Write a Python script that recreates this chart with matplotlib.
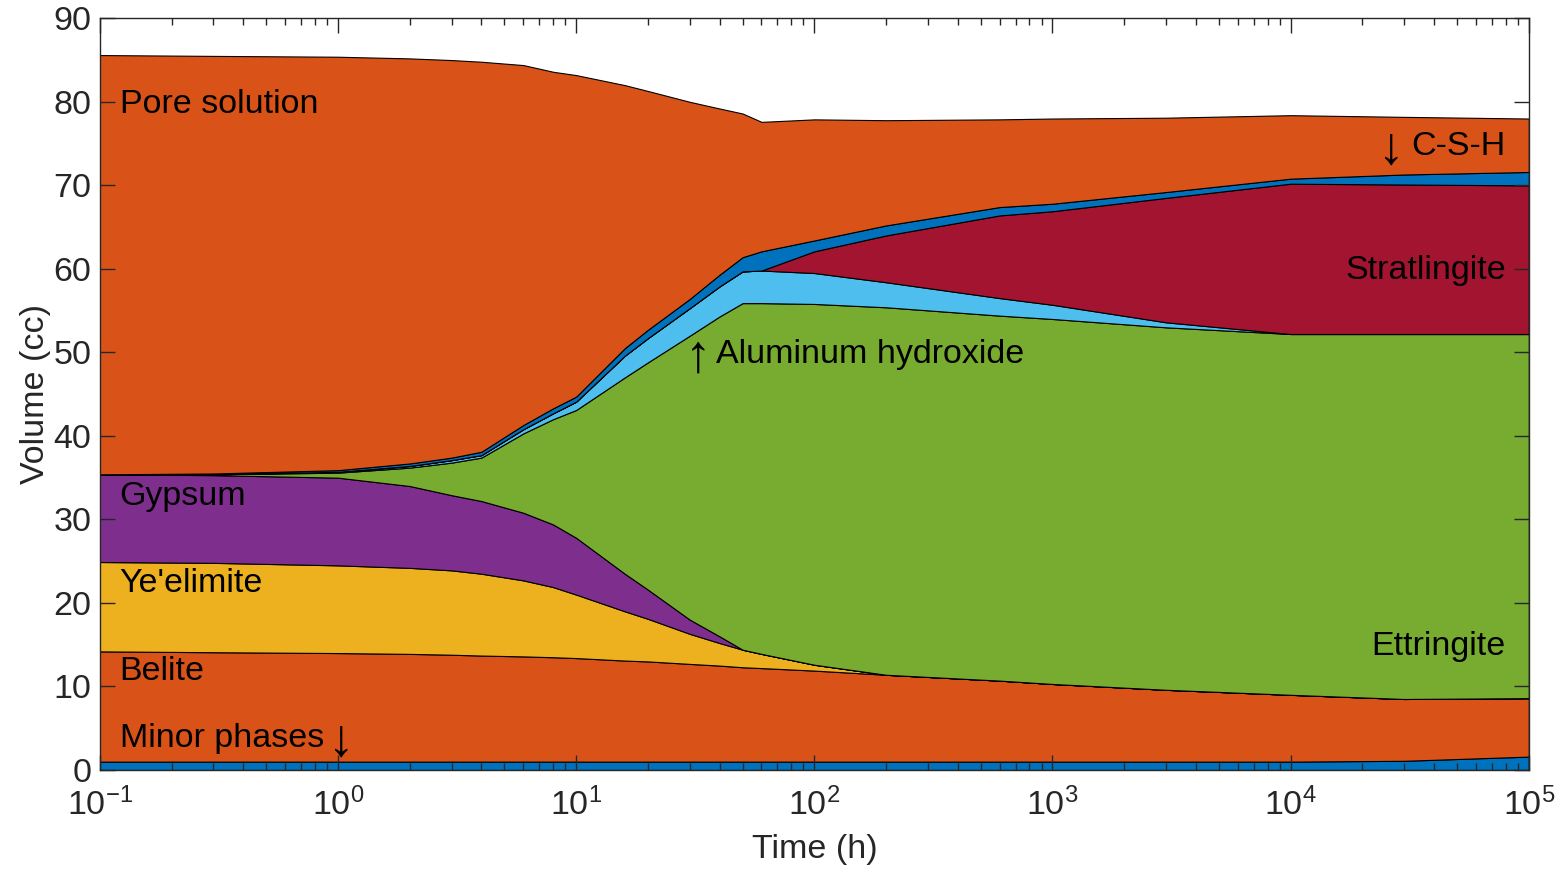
import numpy as np
import matplotlib
matplotlib.use("Agg")
from matplotlib import pyplot as plt
from matplotlib.ticker import FixedLocator, LogLocator, NullFormatter

plt.rcParams['font.family'] = ['Liberation Sans', 'DejaVu Sans']
plt.rcParams['mathtext.fontset'] = 'custom'
plt.rcParams['mathtext.rm'] = 'Liberation Sans'
plt.rcParams['mathtext.default'] = 'regular'

# time (h) and phase volumes (cc)
time = [0.1, 0.3, 1, 2, 3, 4, 6, 8, 10, 16, 20, 30, 40, 50, 60, 100, 200, 600, 1000, 3000, 1e4, 3e4, 1e5]
minor = [1.0, 1.0, 1.0, 1.0, 1.0, 1.0, 1.0, 1.0, 1.0, 1.0, 1.0, 1.0, 1.0, 1.0, 1.0, 1.0, 1.0, 1.0, 1.0, 1.0, 1.0, 1.1, 1.6]
belite = [13.2, 13.1, 13.0, 12.9, 12.8, 12.7, 12.6, 12.5, 12.4, 12.1, 12.0, 11.7, 11.5, 11.3, 11.2, 10.9, 10.4, 9.7, 9.3, 8.6, 8.0, 7.4, 7.0]
yeelimite = [10.7, 10.7, 10.5, 10.3, 10.1, 9.8, 9.1, 8.4, 7.6, 5.9, 5.1, 3.6, 2.7, 2.1, 1.7, 0.7, 0, 0, 0, 0, 0, 0, 0]
gypsum = [10.5, 10.5, 10.5, 9.8, 9.0, 8.7, 8.1, 7.5, 6.8, 4.5, 3.5, 1.7, 0.8, 0, 0, 0, 0, 0, 0, 0, 0, 0, 0]
ettringite = [0, 0.1, 0.6, 2.2, 3.9, 5.2, 9.5, 12.6, 15.3, 23.5, 27.2, 34.0, 38.3, 41.5, 42.0, 43.2, 44.0, 43.7, 43.7, 43.4, 43.2, 43.7, 43.6]
al_hydroxide = [0, 0, 0.1, 0.2, 0.3, 0.3, 0.5, 0.7, 1.0, 2.6, 2.9, 3.3, 3.6, 3.8, 3.9, 3.7, 3.0, 2.1, 1.7, 0.6, 0, 0, 0]
stratlingite = [0, 0, 0, 0, 0, 0, 0, 0, 0, 0, 0, 0, 0, 0, 0, 2.6, 5.6, 9.9, 11.2, 14.9, 18.0, 17.9, 17.8]
csh = [0, 0.1, 0.2, 0.3, 0.3, 0.4, 0.5, 0.6, 0.6, 0.9, 1.0, 1.1, 1.4, 1.7, 2.3, 1.3, 1.2, 1.0, 0.9, 0.7, 0.6, 1.2, 1.6]
pore = [50.2, 50.0, 49.5, 48.5, 47.6, 46.7, 43.1, 40.3, 38.5, 31.5, 28.6, 23.6, 19.9, 17.2, 15.5, 14.5, 12.6, 10.5, 10.2, 8.9, 7.6, 6.9, 6.4]

colors = ['#0072BD', '#D95319', '#EDB120', '#7E2F8E', '#77AC30',
          '#4DBEEE', '#A2142F', '#0072BD', '#D95319']

fig = plt.figure(figsize=(15.6, 8.72), dpi=100)
ax = fig.add_axes([0.064, 0.117, 0.916, 0.862])

polys = ax.stackplot(time, minor, belite, yeelimite, gypsum, ettringite,
                     al_hydroxide, stratlingite, csh, pore, colors=colors)
for p in polys:
    p.set_edgecolor('black')
    p.set_linewidth(0.8)

ax.set_xscale('log')
ax.set_xlim(0.1, 1e5)
ax.set_ylim(0, 90)
ax.set_yticks(np.arange(0, 91, 10))
ax.xaxis.set_major_locator(FixedLocator([0.1, 1, 10, 100, 1000, 1e4, 1e5]))
ax.set_xticklabels(['$10^{-1}$', '$10^{0}$', '$10^{1}$', '$10^{2}$',
                    '$10^{3}$', '$10^{4}$', '$10^{5}$'])
ax.xaxis.set_minor_locator(LogLocator(base=10, subs=np.arange(2, 10), numticks=20))
ax.xaxis.set_minor_formatter(NullFormatter())

fs = 24.5
ax.tick_params(which='both', direction='in', top=True, right=True,
               colors='#262626', labelsize=fs, width=1.0)
ax.tick_params(which='major', length=11)
ax.tick_params(axis='x', which='major', pad=13)
ax.tick_params(axis='y', which='major', pad=6)
ax.tick_params(which='minor', length=5)
for s in ax.spines.values():
    s.set_color('#262626')
    s.set_linewidth(1.0)
    s.set_zorder(5)
ax.set_axisbelow(False)

ax.set_xlabel('Time (h)', fontsize=fs, color='#262626', labelpad=8)
ax.set_ylabel('Volume (cc)', fontsize=fs, color='#262626', labelpad=2)

# phase labels
ax.text(0.121, 79.7, 'Pore solution', fontsize=fs, va='center', ha='left')
ax.text(8e4, 74.7, 'C-S-H', fontsize=fs, va='center', ha='right')
ax.text(8e4, 59.8, 'Stratlingite', fontsize=fs, va='center', ha='right')
ax.text(38.5, 49.8, 'Aluminum hydroxide', fontsize=fs, va='center', ha='left')
ax.text(0.121, 32.8, 'Gypsum', fontsize=fs, va='center', ha='left')
ax.text(0.121, 22.3, "Ye'elimite", fontsize=fs, va='center', ha='left')
ax.text(8e4, 14.8, 'Ettringite', fontsize=fs, va='center', ha='right')
ax.text(0.121, 11.8, 'Belite', fontsize=fs, va='center', ha='left')
ax.text(0.121, 3.8, 'Minor phases', fontsize=fs, va='center', ha='left')

# the arrow signs are drawn larger, as in the original
afs = 38
ax.text(26500, 74.3, '↓', fontsize=afs, va='center', ha='center')
ax.text(32.4, 49.4, '↑', fontsize=afs, va='center', ha='center')
ax.text(1.03, 3.4, '↓', fontsize=afs, va='center', ha='center')

fig.savefig('out.png', dpi=100)
